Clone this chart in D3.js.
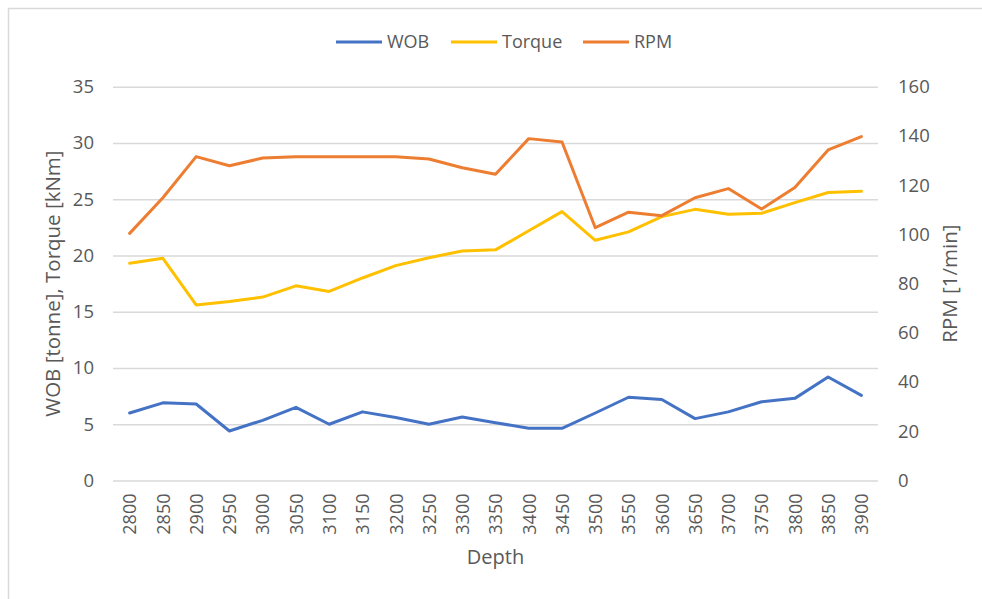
<!DOCTYPE html>
<html>
<meta charset="utf-8">
<script src="https://d3js.org/d3.v7.min.js"></script>
<style>
  body { margin: 0; background: #fff; }
  text { font-family: "Open Sans", sans-serif; fill: #595959; }
</style>
<body>
<div id="chart"></div>
<script>
    // data
    var depths = [2800, 2850, 2900, 2950, 3000, 3050, 3100, 3150, 3200, 3250, 3300, 3350,
                  3400, 3450, 3500, 3550, 3600, 3650, 3700, 3750, 3800, 3850, 3900];
    var wob = [6.0, 6.9, 6.8, 4.4, 5.35, 6.5, 5.0, 6.1, 5.6, 5.0, 5.64, 5.14,
               4.64, 4.64, 6.0, 7.4, 7.2, 5.5, 6.1, 7.0, 7.3, 9.2, 7.57];
    var torque = [19.3, 19.75, 15.6, 15.9, 16.3, 17.3, 16.8, 18.0, 19.1, 19.8, 20.4, 20.5,
                  22.2, 23.9, 21.35, 22.1, 23.45, 24.1, 23.66, 23.75, 24.7, 25.6, 25.7];
    var rpm = [100.4, 114.9, 131.6, 127.9, 131.0, 131.5, 131.5, 131.5, 131.5, 130.6, 127.1, 124.4,
               138.9, 137.5, 102.7, 109.0, 107.6, 114.9, 118.6, 110.3, 119.0, 134.3, 139.7];
    var leftTicks = [0, 5, 10, 15, 20, 25, 30, 35];
    var rightTicks = [0, 20, 40, 60, 80, 100, 120, 140, 160];

    var series = [
      {name: "WOB", values: wob, color: "#4472C4", axis: "left"},
      {name: "Torque", values: torque, color: "#FFC000", axis: "left"},
      {name: "RPM", values: rpm, color: "#ED7D31", axis: "right"}
    ];

    var W = 982, H = 599;
    var plot = {left: 113, right: 878, top: 86.7, bottom: 480.5};

    var svg = d3.select("#chart").append("svg")
        .attr("width", W)
        .attr("height", H);

    // chart frame
    svg.append("rect")
        .attr("x", 8.5).attr("y", 8.5)
        .attr("width", W).attr("height", H)
        .attr("fill", "none")
        .attr("stroke", "#d9d9d9")
        .attr("stroke-width", 1.5);

    var x = d3.scalePoint()
      .domain(depths)
      .range([plot.left, plot.right])
      .padding(0.5);

    var yL = d3.scaleLinear().domain([0, 35]).range([plot.bottom, plot.top]);
    var yR = d3.scaleLinear().domain([0, 160]).range([plot.bottom, plot.top]);

    // gridlines + left axis
    var gL = svg.append("g")
      .attr("transform", "translate(" + plot.left + ",0)")
      .call(d3.axisLeft(yL).tickValues(leftTicks).tickSize(-(plot.right - plot.left)).tickPadding(19));
    gL.select(".domain").remove();
    gL.selectAll(".tick line").attr("stroke", "#d9d9d9").attr("stroke-width", 1.5);
    gL.selectAll(".tick text").style("font-size", "18.5px").attr("fill", "#595959")
      .style("font-family", "'Open Sans', sans-serif");

    // right axis
    var gR = svg.append("g")
      .attr("transform", "translate(" + plot.right + ",0)")
      .call(d3.axisRight(yR).tickValues(rightTicks).tickSize(0).tickPadding(20));
    gR.select(".domain").remove();
    gR.selectAll(".tick text").style("font-size", "18.5px").attr("fill", "#595959")
      .style("font-family", "'Open Sans', sans-serif");

    // x axis labels
    var gX = svg.append("g")
      .attr("transform", "translate(0," + plot.bottom + ")")
      .call(d3.axisBottom(x).tickSize(0).tickPadding(0));
    gX.select(".domain").remove();
    gX.selectAll(".tick text")
      .attr("transform", "rotate(-90)")
      .attr("x", -13)
      .attr("y", 0)
      .attr("dy", "0.35em")
      .style("text-anchor", "end")
      .style("font-size", "18px")
      .attr("fill", "#595959")
      .style("font-family", "'Open Sans', sans-serif");

    // lines
    series.forEach(function(s) {
      var y = s.axis == "left" ? yL : yR;
      var line = d3.line()
        .x(function(d, i) { return x(depths[i]); })
        .y(function(d) { return y(d); });
      svg.append("path")
        .datum(s.values)
        .attr("d", line)
        .attr("fill", "none")
        .attr("stroke", s.color)
        .attr("stroke-width", 3)
        .attr("stroke-linejoin", "round")
        .attr("stroke-linecap", "round");
    });

    // axis titles
    svg.append("text")
      .attr("transform", "translate(60," + ((plot.top + plot.bottom) / 2) + ") rotate(-90)")
      .attr("text-anchor", "middle")
      .style("font-size", "20.5px")
      .text("WOB [tonne], Torque [kNm]");

    svg.append("text")
      .attr("transform", "translate(957," + ((plot.top + plot.bottom) / 2) + ") rotate(-90)")
      .attr("text-anchor", "middle")
      .style("font-size", "20.5px")
      .text("RPM [1/min]");

    svg.append("text")
      .attr("x", (plot.left + plot.right) / 2)
      .attr("y", 564)
      .attr("text-anchor", "middle")
      .style("font-size", "20px")
      .text("Depth");

    // legend
    var legX = [336, 451, 583];
    var leg = svg.selectAll("g.leg")
      .data(series)
      .enter().append("g")
        .attr("class", "leg")
        .attr("transform", function(d, i) { return "translate(" + legX[i] + ",42)"; });
    leg.append("line")
      .attr("x1", 0).attr("x2", 46)
      .attr("stroke", function(d) { return d.color; })
      .attr("stroke-width", 3);
    leg.append("text")
      .attr("x", 51)
      .attr("dy", "0.35em")
      .style("font-size", "18px")
      .text(function(d) { return d.name; });
</script>
</body>
</html>
